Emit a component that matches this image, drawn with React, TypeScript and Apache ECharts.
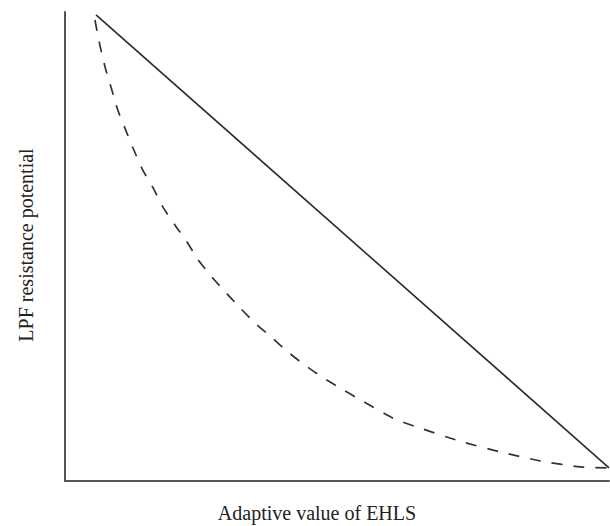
import React, { useEffect, useRef } from "react";
import * as echarts from "echarts";

const solidX = [5.7, 100];
const solidY = [99.4, 2.8];

const dashedX = [5.5, 6.4, 7.4, 8.6, 9.7, 11.0, 12.5, 14.3, 16.2, 18.0, 20.2, 22.4, 24.4, 27.0, 29.0, 32.2, 34.9, 38.1, 41.0, 44.1, 47.2, 50.6, 53.7, 60.3, 64.7, 72.6, 80.0, 87.3, 94.7, 100];
const dashedY = [98.3, 93.0, 88.1, 83.4, 79.1, 75.3, 71.0, 66.3, 62.5, 58.4, 54.6, 51.0, 47.3, 43.5, 40.9, 36.9, 33.7, 30.5, 27.5, 24.7, 22.2, 19.8, 17.7, 13.4, 11.5, 8.5, 6.2, 4.3, 3.0, 2.8];

const xTitle = "Adaptive value of EHLS";
const yTitle = "LPF resistance potential";

export default function App() {
  const ref = useRef<HTMLDivElement>(null);
  useEffect(() => {
    if (!ref.current) return;
    const chart = echarts.init(ref.current, null, { renderer: "svg" });
    const font = "'Liberation Serif', 'Times New Roman', serif";
    chart.setOption({
      animation: false,
      backgroundColor: "#ffffff",
      grid: { left: 65, right: 1, top: 12, bottom: 45, containLabel: false },
      xAxis: {
        type: "value",
        min: 0,
        max: 100,
        axisLine: { show: true, lineStyle: { color: "#555555", width: 2 } },
        axisTick: { show: false },
        axisLabel: { show: false },
        splitLine: { show: false },
      },
      yAxis: {
        type: "value",
        min: 0,
        max: 100,
        axisLine: { show: true, lineStyle: { color: "#555555", width: 2 } },
        axisTick: { show: false },
        axisLabel: { show: false },
        splitLine: { show: false },
      },
      series: [
        {
          type: "line",
          data: solidX.map((x, i) => [x, solidY[i]]),
          showSymbol: false,
          lineStyle: { color: "#2a2a2a", width: 1.6, type: "solid" },
        },
        {
          type: "line",
          data: dashedX.map((x, i) => [x, dashedY[i]]),
          showSymbol: false,
          smooth: 0.2,
          lineStyle: { color: "#333333", width: 1.7, type: [11, 11] },
        },
      ],
      graphic: [
        {
          type: "text",
          x: 317,
          y: 513,
          style: {
            text: xTitle,
            fontFamily: font,
            fontSize: 20,
            fill: "#222222",
            textAlign: "center",
            textVerticalAlign: "middle",
          },
        },
        {
          type: "text",
          x: 26,
          y: 245,
          rotation: Math.PI / 2,
          style: {
            text: yTitle,
            fontFamily: font,
            fontSize: 20,
            fill: "#222222",
            textAlign: "center",
            textVerticalAlign: "middle",
          },
        },
      ],
    });
    return () => chart.dispose();
  }, []);
  return <div ref={ref} style={{ width: 610, height: 526, position: "absolute", left: 0, top: 0 }} />;
}
